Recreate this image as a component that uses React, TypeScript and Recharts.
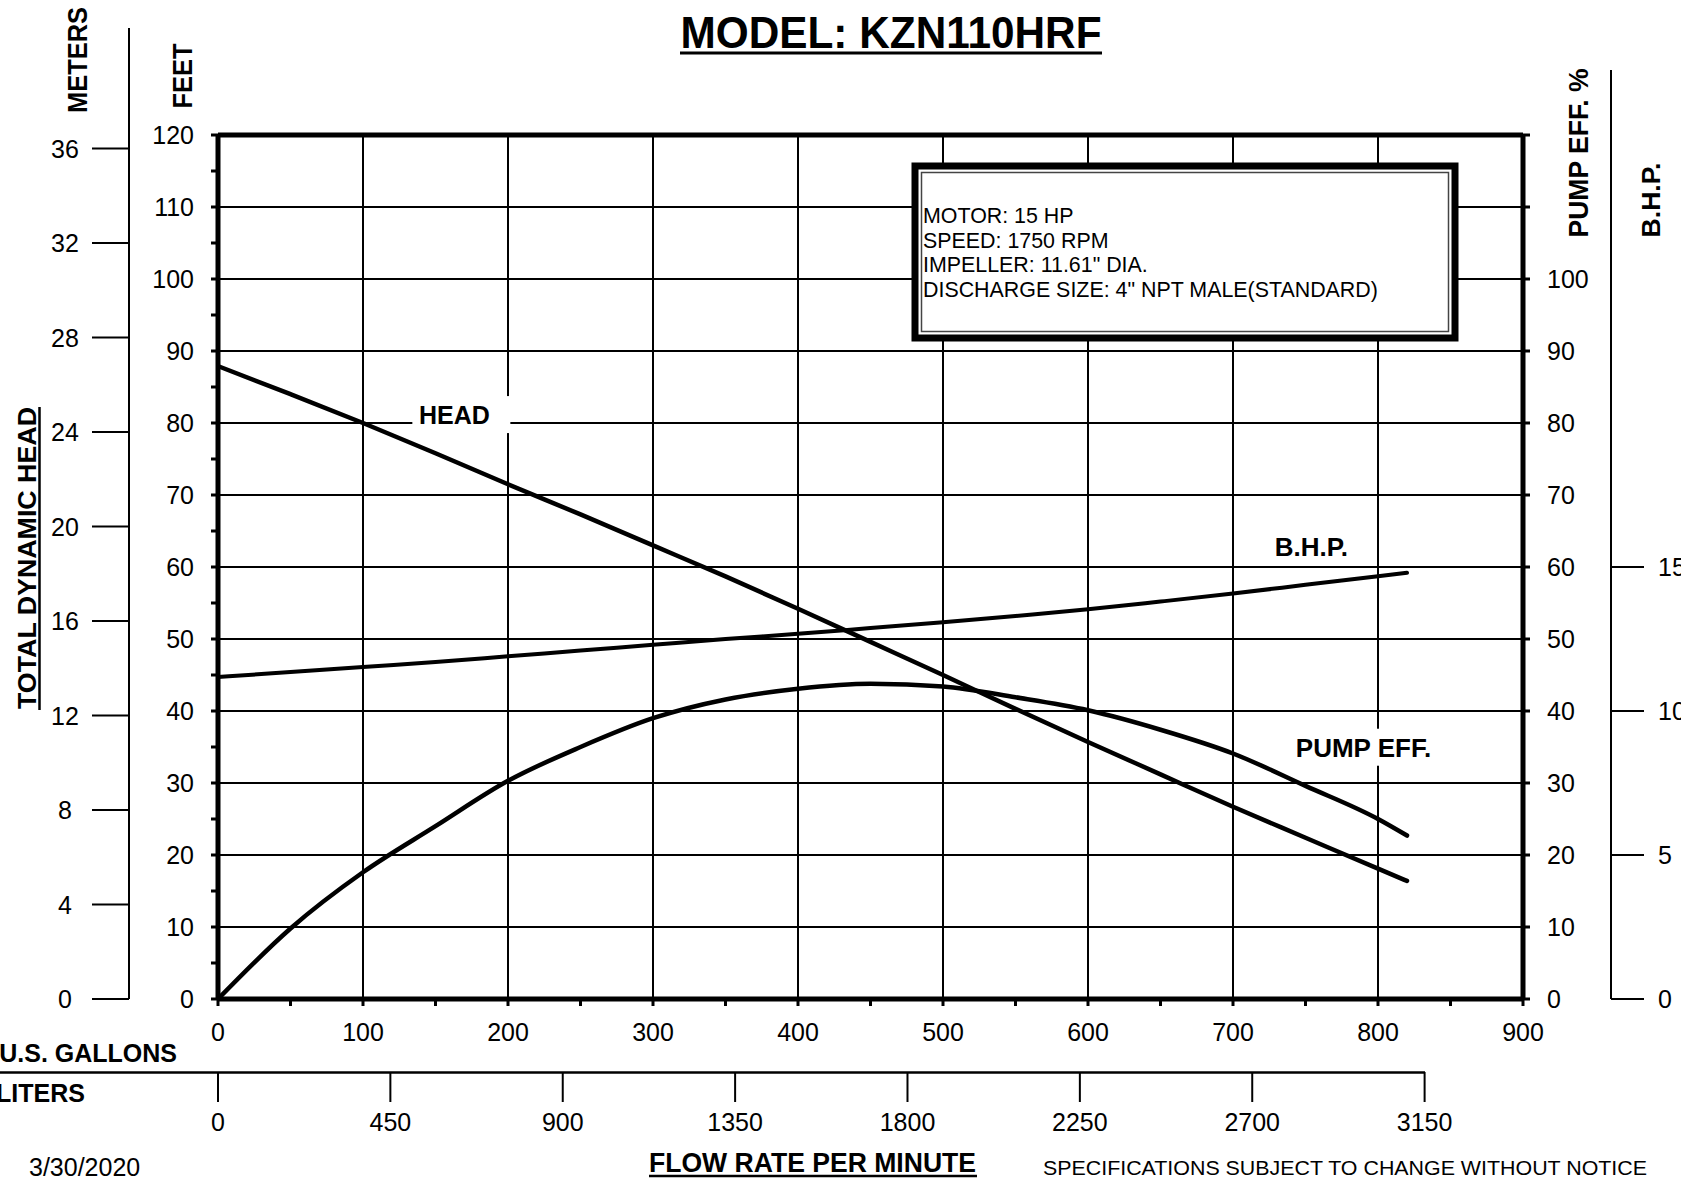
import {
  LineChart,
  Line,
  XAxis,
  YAxis,
  CartesianGrid,
  ReferenceLine,
  ReferenceDot,
} from "recharts"

const FONT = '"Liberation Sans", Arial, Helvetica, sans-serif'
const FT_PER_M = 3.28084
const L_PER_GAL = 3.785411784

// flow in US gpm, head in feet, efficiency in %, brake horsepower
const flowGpm = [0, 50, 100, 150, 200, 250, 300, 350, 400, 450, 500, 550, 600, 650, 700, 750, 800, 820]
const headFt = [87.9, 84.0, 80.0, 75.8, 71.5, 67.3, 63.0, 58.7, 54.2, 49.6, 45.0, 40.3, 35.7, 31.2, 26.7, 22.4, 18.1, 16.4]
const pumpEff = [0, 9.8, 17.6, 24.0, 30.3, 35.0, 39.0, 41.6, 43.1, 43.8, 43.4, 41.9, 40.1, 37.4, 34.1, 29.6, 25.0, 22.7]
const brakeHp = [11.18, 11.35, 11.53, 11.7, 11.9, 12.1, 12.3, 12.5, 12.68, 12.88, 13.08, 13.3, 13.53, 13.8, 14.08, 14.38, 14.68, 14.8]

const gallonTicks = [0, 50, 100, 150, 200, 250, 300, 350, 400, 450, 500, 550, 600, 650, 700, 750, 800, 850, 900]
const literTicks = [0, 450, 900, 1350, 1800, 2250, 2700, 3150]
const feetTicks = [0, 5, 10, 15, 20, 25, 30, 35, 40, 45, 50, 55, 60, 65, 70, 75, 80, 85, 90, 95, 100, 105, 110, 115, 120]
const feetGrid = [10, 20, 30, 40, 50, 60, 70, 80, 90, 100, 110]
const gallonGrid = [100, 200, 300, 400, 500, 600, 700, 800]
const meterTicks = [0, 4, 8, 12, 16, 20, 24, 28, 32, 36]
const effTicks = [0, 10, 20, 30, 40, 50, 60, 70, 80, 90, 100, 110, 120]
const bhpTicks = [0, 5, 10, 15]

const infoLines = [
  "MOTOR: 15 HP",
  "SPEED: 1750 RPM",
  'IMPELLER: 11.61" DIA.',
  'DISCHARGE SIZE: 4" NPT MALE(STANDARD)',
]

const rows = flowGpm.map((gpm, i) => ({
  gpm,
  head: headFt[i],
  eff: pumpEff[i],
  bhp: brakeHp[i],
}))

// liters axis shares the gallon scale, ticks placed at their gallon equivalents
const literTicksInGal = literTicks.map((l) => l / L_PER_GAL)

const tickText = { fontSize: 25, fill: "#000", fontFamily: FONT }

function gallonTick(props: any) {
  const { x, y, payload } = props
  if (payload.value % 100 !== 0) return null
  return (
    <text x={x} y={y} dy="0.71em" textAnchor="middle" {...tickText}>
      {payload.value}
    </text>
  )
}

function literTick(props: any) {
  const { x, y, payload } = props
  return (
    <text x={x} y={y} dy="0.71em" textAnchor="middle" {...tickText}>
      {Math.round(payload.value * L_PER_GAL)}
    </text>
  )
}

function feetTick(props: any) {
  const { x, y, payload } = props
  if (payload.value % 10 !== 0) return null
  return (
    <text x={x} y={y} dy="0.36em" textAnchor="end" {...tickText}>
      {payload.value}
    </text>
  )
}

function meterTick(props: any) {
  const { x, y, payload } = props
  return (
    <text x={x} y={y} dy="0.36em" textAnchor="middle" {...tickText}>
      {payload.value}
    </text>
  )
}

function effTick(props: any) {
  const { x, y, payload } = props
  if (payload.value > 100) return null
  return (
    <text x={x} y={y} dy="0.36em" textAnchor="start" {...tickText}>
      {payload.value}
    </text>
  )
}

function bhpTick(props: any) {
  const { x, y, payload } = props
  return (
    <text x={x} y={y} dy="0.36em" textAnchor="start" {...tickText}>
      {payload.value}
    </text>
  )
}

function curveTag(text: string, boxLeft: number, boxRight: number, size: number) {
  return (props: any) => {
    const { cx, cy } = props
    return (
      <g>
        {boxRight > 0 && (
          <rect x={cx - boxLeft} y={cy - 19} width={boxLeft + boxRight} height={37} fill="#fff" />
        )}
        <text
          x={cx}
          y={cy}
          dy="0.36em"
          textAnchor="middle"
          fontSize={size}
          fontWeight="bold"
          fontFamily={FONT}
          fill="#000"
        >
          {text}
        </text>
      </g>
    )
  }
}

function Decorations() {
  const bold = { fontFamily: FONT, fontWeight: "bold" as const, fill: "#000" }
  return (
    <svg
      width={1681}
      height={1178}
      style={{ position: "absolute", left: 0, top: 0, pointerEvents: "none" }}
    >
      {/* axis line extensions above the plot */}
      <line x1={129} y1={28} x2={129} y2={137} stroke="#000" strokeWidth={2} />
      <line x1={1611} y1={70} x2={1611} y2={137} stroke="#000" strokeWidth={2} />
      <line x1={0} y1={1072.5} x2={1425} y2={1072.5} stroke="#000" strokeWidth={2.5} />

      <text x={891} y={48} textAnchor="middle" fontSize={45} textLength={421} lengthAdjust="spacingAndGlyphs" {...bold}>
        MODEL: KZN110HRF
      </text>
      <line x1={680} y1={53} x2={1102} y2={53} stroke="#000" strokeWidth={3} />

      <text transform="rotate(-90 87 60)" x={87} y={60} textAnchor="middle" fontSize={28} textLength={106} lengthAdjust="spacingAndGlyphs" {...bold}>
        METERS
      </text>
      <text transform="rotate(-90 192 76)" x={192} y={76} textAnchor="middle" fontSize={27} textLength={65} lengthAdjust="spacingAndGlyphs" {...bold}>
        FEET
      </text>
      <text transform="rotate(-90 36 558)" x={36} y={558} textAnchor="middle" fontSize={26} textLength={302} lengthAdjust="spacingAndGlyphs" {...bold}>
        TOTAL DYNAMIC HEAD
      </text>
      <line x1={39.5} y1={407} x2={39.5} y2={710} stroke="#000" strokeWidth={2.5} />
      <text transform="rotate(-90 1588 153)" x={1588} y={153} textAnchor="middle" fontSize={27} textLength={169} lengthAdjust="spacingAndGlyphs" {...bold}>
        PUMP EFF. %
      </text>
      <text transform="rotate(-90 1660 200)" x={1660} y={200} textAnchor="middle" fontSize={26} textLength={75} lengthAdjust="spacingAndGlyphs" {...bold}>
        B.H.P.
      </text>

      <text x={177} y={1062} textAnchor="end" fontSize={25} {...bold}>
        U.S. GALLONS
      </text>
      <text x={85} y={1102} textAnchor="end" fontSize={25} {...bold}>
        LITERS
      </text>
      <text x={29} y={1176} fontSize={25} fontFamily={FONT} fill="#000">
        3/30/2020
      </text>
      <text x={649} y={1172} fontSize={27} textLength={327} lengthAdjust="spacingAndGlyphs" {...bold}>
        FLOW RATE PER MINUTE
      </text>
      <line x1={649} y1={1176} x2={977} y2={1176} stroke="#000" strokeWidth={2.5} />
      <text x={1043} y={1175} fontSize={21} textLength={604} lengthAdjust="spacingAndGlyphs" fontFamily={FONT} fill="#000">
        SPECIFICATIONS SUBJECT TO CHANGE WITHOUT NOTICE
      </text>

      {/* spec box */}
      <rect x={915} y={166} width={540} height={172} fill="#fff" stroke="#000" strokeWidth={7} />
      <rect x={921.5} y={172.5} width={527} height={159} fill="none" stroke="#444" strokeWidth={1.5} />
      {infoLines.map((line, i) => (
        <text key={line} x={923} y={223 + i * 24.5} fontSize={21.4} fontFamily={FONT} fill="#000">
          {line}
        </text>
      ))}
    </svg>
  )
}

export default function App() {
  return (
    <div style={{ position: "relative", width: 1681, height: 1178, background: "#fff" }}>
      <style>{"body{margin:0}"}</style>
      <LineChart
        width={1681}
        height={1178}
        data={rows}
        margin={{ top: 135, right: 0, bottom: 46, left: 20 }}
      >
        <CartesianGrid
          xAxisId="gal"
          yAxisId="ft"
          horizontalValues={feetGrid}
          verticalValues={gallonGrid}
          stroke="#000"
          strokeWidth={2}
        />
        <XAxis
          xAxisId="gal"
          dataKey="gpm"
          type="number"
          domain={[0, 900]}
          ticks={gallonTicks}
          interval={0}
          allowDataOverflow
          height={73}
          tickSize={7}
          tickMargin={17}
          tick={gallonTick}
          axisLine={{ stroke: "#000", strokeWidth: 5 }}
          tickLine={{ stroke: "#000", strokeWidth: 3 }}
        />
        <XAxis
          xAxisId="lit"
          dataKey="gpm"
          type="number"
          domain={[0, 900]}
          ticks={literTicksInGal}
          interval={0}
          allowDataOverflow
          height={60}
          tickSize={30}
          tickMargin={11}
          tick={literTick}
          axisLine={false}
          tickLine={{ stroke: "#000", strokeWidth: 2 }}
        />
        <YAxis
          yAxisId="ft"
          type="number"
          domain={[0, 120]}
          ticks={feetTicks}
          interval={0}
          allowDataOverflow
          width={89}
          tickSize={7}
          tickMargin={17}
          tick={feetTick}
          axisLine={{ stroke: "#000", strokeWidth: 5 }}
          tickLine={{ stroke: "#000", strokeWidth: 3 }}
        />
        <YAxis
          yAxisId="m"
          type="number"
          domain={[0, 120 / FT_PER_M]}
          ticks={meterTicks}
          interval={0}
          allowDataOverflow
          width={109}
          tickSize={37}
          tickMargin={27}
          tick={meterTick}
          axisLine={{ stroke: "#000", strokeWidth: 2 }}
          tickLine={{ stroke: "#000", strokeWidth: 2 }}
        />
        <YAxis
          yAxisId="eff"
          orientation="right"
          type="number"
          domain={[0, 120]}
          ticks={effTicks}
          interval={0}
          allowDataOverflow
          width={88}
          tickSize={7}
          tickMargin={17}
          tick={effTick}
          axisLine={{ stroke: "#000", strokeWidth: 5 }}
          tickLine={{ stroke: "#000", strokeWidth: 3 }}
        />
        <YAxis
          yAxisId="hp"
          orientation="right"
          type="number"
          domain={[0, 30]}
          ticks={bhpTicks}
          interval={0}
          allowDataOverflow
          width={70}
          tickSize={33}
          tickMargin={14}
          tick={bhpTick}
          axisLine={{ stroke: "#000", strokeWidth: 2 }}
          tickLine={{ stroke: "#000", strokeWidth: 2 }}
        />
        <ReferenceLine xAxisId="gal" yAxisId="ft" y={120} stroke="#000" strokeWidth={5} />

        <Line
          xAxisId="gal"
          yAxisId="ft"
          dataKey="head"
          type="monotone"
          stroke="#000"
          strokeWidth={4.5}
          strokeLinecap="round"
          dot={false}
          isAnimationActive={false}
        />
        <Line
          xAxisId="gal"
          yAxisId="eff"
          dataKey="eff"
          type="monotone"
          stroke="#000"
          strokeWidth={4.5}
          strokeLinecap="round"
          dot={false}
          isAnimationActive={false}
        />
        <Line
          xAxisId="gal"
          yAxisId="hp"
          dataKey="bhp"
          type="monotone"
          stroke="#000"
          strokeWidth={4}
          strokeLinecap="round"
          dot={false}
          isAnimationActive={false}
        />

        <ReferenceDot xAxisId="gal" yAxisId="ft" x={163} y={81.1} r={0} shape={curveTag("HEAD", 42, 56, 25)} />
        <ReferenceDot xAxisId="gal" yAxisId="hp" x={754} y={15.69} r={0} shape={curveTag("B.H.P.", 0, 0, 26)} />
        <ReferenceDot xAxisId="gal" yAxisId="eff" x={790} y={34.9} r={0} shape={curveTag("PUMP EFF.", 74, 74, 26)} />
      </LineChart>
      <Decorations />
    </div>
  )
}
